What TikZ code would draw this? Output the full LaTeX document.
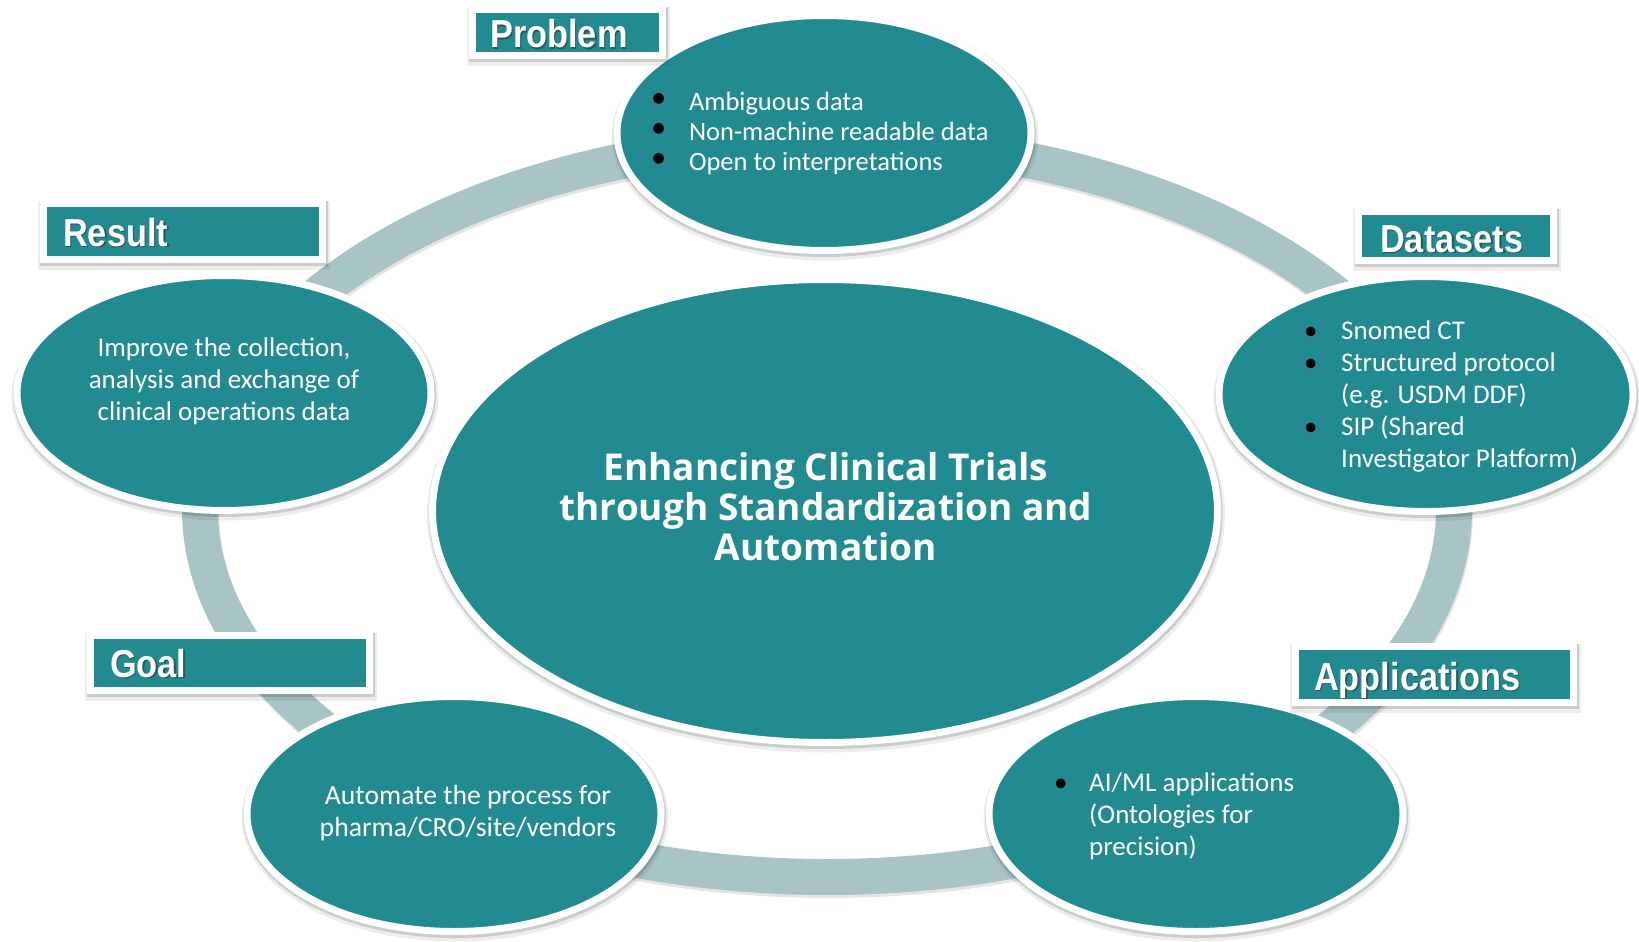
\documentclass[tikz,border=0pt]{standalone}
\usepackage{fontspec}
\usepackage{graphicx}
\setmainfont{Carlito}
\newfontfamily\titlefont{Open Sans}
\newfontfamily\tagfont{Liberation Sans}
\newfontfamily\dotfont{DejaVu Sans}
\usetikzlibrary{shapes.geometric,shadows}
\definecolor{tealfill}{RGB}{34,139,146}
\definecolor{ringcol}{RGB}{169,196,199}

\newcommand{\bigdot}{\makebox[36.3pt][l]{\color{black}\raisebox{8.5pt}{\dotfont\fontsize{14}{14}\selectfont ●}}}
\newcommand{\smalldot}[1]{\makebox[#1][l]{\color{black}\textbullet}}
\newcommand{\nodot}[1]{\hspace*{#1}}

\begin{document}
\begin{tikzpicture}[x=1pt,y=-1pt,
  softshadow/.style={
    drop shadow={shadow xshift=1pt, shadow yshift=-3.5pt, opacity=0.07, fill=black, draw=black, line width=13pt},
    drop shadow={shadow xshift=0.6pt, shadow yshift=-2pt, opacity=0.14, fill=black, draw=black, line width=9pt}},
  bubble/.style={ellipse, fill=tealfill, draw=white, line width=7pt, inner sep=0pt,
    minimum width=414pt, minimum height=235pt, softshadow},
  hub/.style={bubble, minimum width=785pt, minimum height=463pt},
  bodytext/.style={text=white, font=\fontsize{27}{32}\selectfont, align=center, inner sep=0pt},
  listtext/.style={bodytext, align=left, anchor=west},
  hubtext/.style={text=white, font=\titlefont\bfseries\fontsize{37}{40}\selectfont, align=center, inner sep=0pt},
  tagbox/.style={rectangle, fill=tealfill, draw=white, line width=7pt, inner sep=0pt, softshadow},
  tagtext/.style={text=white, font=\tagfont\bfseries\fontsize{39}{39}\selectfont, inner sep=0pt, anchor=base west},
  tagshade/.style={tagtext, text=black!80, opacity=0.6},
  ringline/.style={draw=ringcol, line width=36pt},
]
\useasboundingbox (0,0) rectangle (1639,942);

% connecting ring behind all bubbles
\coordinate (ringc) at (827,509);
\draw[line width=36pt, draw=black, opacity=0.1] ([shift={(1,3)}]ringc) ellipse [x radius=627, y radius=368];
\draw[ringline] (ringc) ellipse [x radius=627, y radius=368];

% central bubble
\node[hub] (hub) at (825,511) {};
\node[hubtext] (hubtitle) at (826,507) {Enhancing Clinical Trials\\through Standardization and\\Automation};

% outer bubbles
\node[bubble] (problem) at (824,133) {};
\node[bubble] (result) at (224,393) {};
\node[bubble] (datasets) at (1426,394) {};
\node[bubble] (goal) at (454,814) {};
\node[bubble] (apps) at (1196,814) {};

% bubble texts
\node[listtext, font=\fontsize{26.5}{30}\selectfont] (problemtxt) at (652.5,133.5) {%
  \bigdot Ambiguous data\\
  \bigdot Non-machine readable data\\
  \bigdot Open to interpretations};
\node[bodytext] (resulttxt) at (224,381) {Improve the collection,\\analysis and exchange of\\clinical operations data};
\node[listtext] (datasetstxt) at (1304,396) {%
  \smalldot{37pt}Snomed CT\\
  \smalldot{37pt}Structured protocol\\
  \nodot{37pt}(e.g. USDM DDF)\\
  \smalldot{37pt}SIP (Shared\\
  \nodot{37pt}Investigator Platform)};
\node[bodytext, font=\fontsize{27.7}{32.5}\selectfont] (goaltxt) at (468,813) {Automate the process for\\pharma/CRO/site/vendors};
\node[listtext] (appstxt) at (1054,816.5) {%
  \smalldot{35pt}AI/ML applications\\
  \nodot{35pt}(Ontologies for\\
  \nodot{35pt}precision)};

% heading tags
\node[tagbox, minimum width=190pt, minimum height=46pt] (problemtag) at (567.5,33) {};
\node[tagbox, minimum width=279pt, minimum height=56pt] (resulttag) at (183,231.5) {};
\node[tagbox, minimum width=195pt, minimum height=49pt] (datasetstag) at (1456,236) {};
\node[tagbox, minimum width=279pt, minimum height=55pt] (goaltag) at (230,663) {};
\node[tagbox, minimum width=278pt, minimum height=56pt] (appstag) at (1434.5,674.5) {};

\node[tagshade] (problemsh) at (491.5,49.5) {\scalebox{0.88}[1]{Problem}};
\node[tagtext] (problemlbl) at (490,48) {\scalebox{0.88}[1]{Problem}};
\node[tagshade] (resultsh) at (64.5,247.5) {\scalebox{0.88}[1]{Result}};
\node[tagtext] (resultlbl) at (63,246) {\scalebox{0.88}[1]{Result}};
\node[tagshade] (datasetssh) at (1381.5,253.5) {\scalebox{0.88}[1]{Datasets}};
\node[tagtext] (datasetslbl) at (1380,252) {\scalebox{0.88}[1]{Datasets}};
\node[tagshade] (goalsh) at (111.5,678.5) {\scalebox{0.88}[1]{Goal}};
\node[tagtext] (goallbl) at (110,677) {\scalebox{0.88}[1]{Goal}};
\node[tagshade] (appssh) at (1315.5,691.5) {\scalebox{0.88}[1]{Applications}};
\node[tagtext] (appslbl) at (1314,690) {\scalebox{0.88}[1]{Applications}};
\end{tikzpicture}
\end{document}
